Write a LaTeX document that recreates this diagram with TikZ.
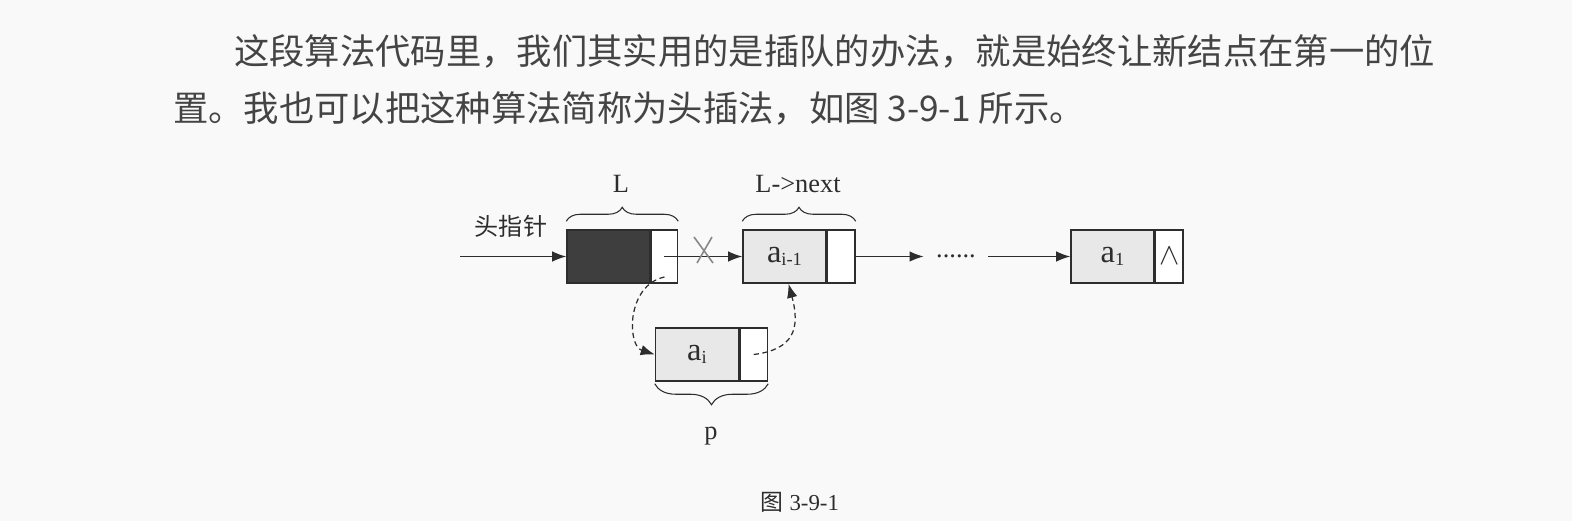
\documentclass[tikz,border=0pt]{standalone}
\usepackage{fontspec}
\usepackage{xcolor}
\usepackage{tikz}
\usetikzlibrary{arrows.meta,decorations.pathreplacing,calc,positioning}
\setmainfont{Liberation Serif}
\newfontfamily\cjkfont{Noto Sans CJK SC}
\newcommand\subtxt[1]{\raisebox{-2pt}{\fontsize{10.5}{12}\selectfont #1}}
\definecolor{pagebg}{RGB}{249,249,249}
\definecolor{inkgrey}{RGB}{45,45,45}
\definecolor{textgrey}{RGB}{68,68,68}
\definecolor{headfill}{RGB}{62,62,62}
\definecolor{datafill}{RGB}{232,232,232}
\definecolor{crossgrey}{RGB}{135,135,135}

\tikzset{
  datafield/.style={draw=inkgrey, line width=0.85pt, fill=datafill, minimum width=1.66cm,
    minimum height=1.06cm, inner sep=0pt, text=inkgrey, font=\fontsize{18.5}{20}\selectfont},
  ptrfield/.style={draw=inkgrey, line width=0.85pt, fill=white, minimum width=0.55cm,
    minimum height=1.06cm, inner sep=0pt, text=inkgrey, font=\fontsize{18}{20}\selectfont},
  link/.style={draw=inkgrey, line width=0.7pt, -{Latex[length=8pt,width=6pt]}},
  dashlink/.style={link, dash pattern=on 3pt off 2pt},
  bracetop/.style={draw=inkgrey, line width=0.6pt, decorate,
    decoration={brace, amplitude=0.28cm, raise=0.16cm}},
  bracebot/.style={draw=inkgrey, line width=0.6pt, decorate,
    decoration={brace, amplitude=0.42cm, raise=0.04cm}},
  label/.style={text=inkgrey, font=\fontsize{15}{18}\selectfont, inner sep=0pt}
}

\begin{document}
\begin{tikzpicture}[x=0.02cm, y=-0.02cm]
\fill[pagebg] (0,0) rectangle (1572,521);
\useasboundingbox (0,0) rectangle (1572,521);

% paragraph above the figure
\node[anchor=west, inner sep=0pt, text=textgrey, font=\cjkfont\fontsize{20.1}{24}\selectfont] (line1) at (234,51)
  {这段算法代码里，我们其实用的是插队的办法，就是始终让新结点在第一的位};
\node[anchor=west, inner sep=0pt, text=textgrey, font=\cjkfont\fontsize{20.1}{24}\selectfont] (line2) at (173,108)
  {置。我也可以把这种算法简称为头插法，如图 3-9-1 所示。};

% list nodes
\node[datafield, fill=headfill] (Ld) at (608.5,256.5) {};
\node[ptrfield, right=0pt of Ld, minimum width=0.52cm] (Lp) {};
\node[datafield] (aimd) at (784.5,256.5) {a\subtxt{i-1}};
\node[ptrfield, right=0pt of aimd] (aimp) {};
\node[datafield] (a1d) at (1112.5,256.5) {a\subtxt{1}};
\node[ptrfield, right=0pt of a1d] (a1p) {$\wedge$};
\node[datafield] (aid) at (697,354.5) {a\subtxt{i}};
\node[ptrfield, right=0pt of aid] (aip) {};

% labels and braces
\node[text=inkgrey, inner sep=0pt, font=\cjkfont\fontsize{13.7}{16}\selectfont] (headlab) at (511,226.5) {头指针};
\draw[bracetop] (Ld.north west) -- (Lp.north east);
\draw[bracetop] (aimd.north west) -- (aimp.north east);
\draw[bracebot] (aip.south east) -- (aid.south west);
\node[label] (Llab) at (621,183.5) {L};
\node[label] (nextlab) at (798,183.5) {L->next};
\node[label] (plab) at (711,436) {p};

% connectors
\coordinate (start) at (460,256.5);
\draw[link] (start) -- (Ld.west);
\draw[link] (Lp.center) -- (aimd.west);
\node[label, inner xsep=7pt, anchor=base] (dots) at (956,257.5) {......};
\draw[link] (aimp.east) -- (aimp.east -| dots.west);
\draw[link] (a1d.west -| dots.east) -- (a1d.west);

% broken old link
\coordinate (cut) at (704,250);
\draw[crossgrey, line width=0.9pt] ($(cut)+(-10,-13)$) -- ($(cut)+(9,13)$);
\draw[crossgrey, line width=0.9pt] ($(cut)+(8,-13)$) -- ($(cut)+(-7,13)$);

% new links
\draw[dashlink] ($(Lp.center)+(0,20.5)$) .. controls +(-38,8) and +(-28,-9) .. (aid.west);
\draw[dashlink] (aip.center) .. controls +(40,-5) and +(12,45) .. ($(aimd.south)+(4,0)$);

\node[text=inkgrey, font=\fontsize{13}{16}\selectfont] (caption) at (800,502) {{\cjkfont 图} 3-9-1};
\end{tikzpicture}
\end{document}
